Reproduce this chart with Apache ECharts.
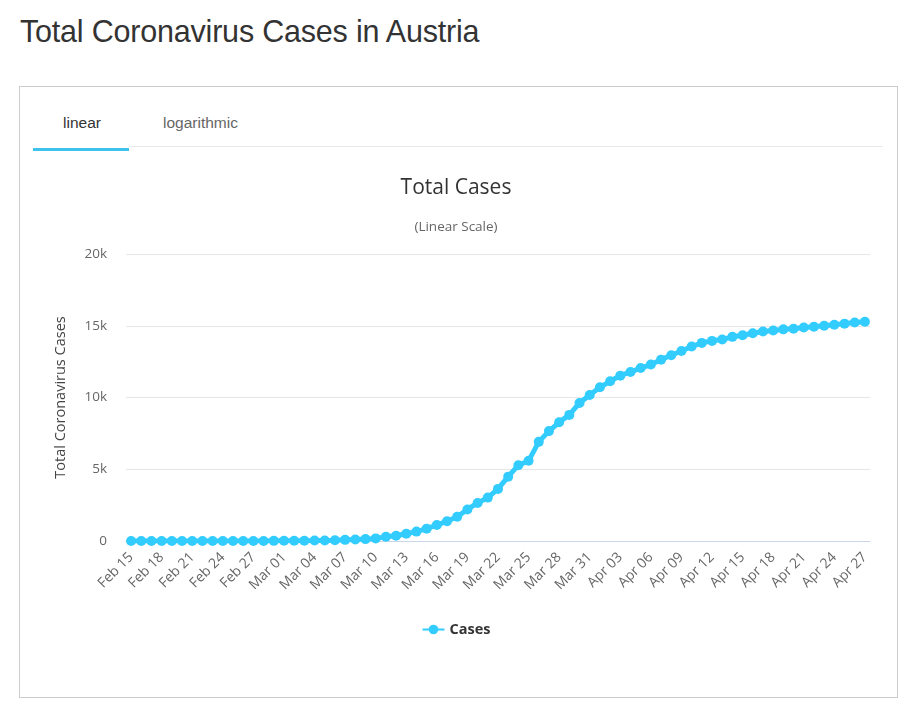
<!DOCTYPE html>
<html>
<head>
<meta charset="utf-8">
<script src="https://cdn.jsdelivr.net/npm/echarts@6/dist/echarts.min.js"></script>
<style>
  html, body { margin: 0; padding: 0; background: #fff; width: 912px; height: 712px; overflow: hidden; }
  #header { position: absolute; left: 20px; top: 14px; font-family: "Liberation Sans", Arial, sans-serif; font-size: 30.5px; color: #333; letter-spacing: -0.2px; }
  #box { position: absolute; left: 19px; top: 86px; width: 879px; height: 612px; border: 1px solid #ccc; box-sizing: border-box; }
  .tab { position: absolute; top: 114px; font-family: "Liberation Sans", Arial, sans-serif; font-size: 15.5px; }
  #tabline { position: absolute; left: 129px; top: 146px; width: 754px; height: 1px; background: #e8e8e8; }
  #tabactive { position: absolute; left: 33px; top: 148px; width: 96px; height: 3px; background: #3fc3ee; }
  #chart { position: absolute; left: 0; top: 0; width: 912px; height: 712px; }
</style>
</head>
<body>
<div id="header">Total Coronavirus Cases in Austria</div>
<div id="box"></div>
<div class="tab" style="left:63px;color:#333;">linear</div>
<div class="tab" style="left:163px;color:#666;">logarithmic</div>
<div id="tabline"></div>
<div id="tabactive"></div>
<div id="chart"></div>
<script>
const categories = [
  "Feb 15","Feb 16","Feb 17","Feb 18","Feb 19","Feb 20","Feb 21","Feb 22","Feb 23","Feb 24",
  "Feb 25","Feb 26","Feb 27","Feb 28","Feb 29",
  "Mar 01","Mar 02","Mar 03","Mar 04","Mar 05","Mar 06","Mar 07","Mar 08","Mar 09","Mar 10",
  "Mar 11","Mar 12","Mar 13","Mar 14","Mar 15","Mar 16","Mar 17","Mar 18","Mar 19","Mar 20",
  "Mar 21","Mar 22","Mar 23","Mar 24","Mar 25","Mar 26","Mar 27","Mar 28","Mar 29","Mar 30","Mar 31",
  "Apr 01","Apr 02","Apr 03","Apr 04","Apr 05","Apr 06","Apr 07","Apr 08","Apr 09","Apr 10",
  "Apr 11","Apr 12","Apr 13","Apr 14","Apr 15","Apr 16","Apr 17","Apr 18","Apr 19","Apr 20",
  "Apr 21","Apr 22","Apr 23","Apr 24","Apr 25","Apr 26","Apr 27"
];
const cases = [
  0,0,0,0,0,0,0,0,0,0,
  2,2,3,3,9,
  14,18,21,29,41,55,79,104,131,182,
  302,361,504,655,860,1110,1380,1690,2200,2649,
  3024,3631,4486,5282,5588,6909,7657,8271,8788,9618,10180,
  10711,11129,11524,11781,12051,12297,12639,12942,13244,13555,
  13806,13945,14041,14226,14336,14476,14595,14671,14749,14795,
  14873,14925,15002,15071,15148,15225,15274
];
const yTicks = { min: 0, max: 20000, interval: 5000 };
const seriesName = "Cases";
const lineColor = "#33ccff";

const chart = echarts.init(document.getElementById('chart'));
chart.setOption({
  animation: false,
  backgroundColor: 'transparent',
  title: {
    text: 'Total Cases',
    subtext: '(Linear Scale)',
    left: 'center',
    top: 173,
    itemGap: 21,
    textStyle: { fontFamily: 'Open Sans, sans-serif', fontSize: 21, fontWeight: 'normal', color: '#333' },
    subtextStyle: { fontFamily: 'Open Sans, sans-serif', fontSize: 13.5, color: '#666' }
  },
  grid: { left: 126, right: 42, top: 254, bottom: 171, containLabel: false },
  legend: {
    data: [seriesName],
    bottom: 70,
    left: 'center',
    itemWidth: 22,
    itemHeight: 12,
    textStyle: { fontFamily: 'Open Sans, sans-serif', fontSize: 14.5, fontWeight: 'bold', color: '#333' }
  },
  xAxis: {
    type: 'category',
    data: categories,
    boundaryGap: true,
    axisLine: { lineStyle: { color: '#ccd6eb' } },
    axisTick: { show: false },
    axisLabel: {
      interval: 2,
      rotate: 45,
      margin: 14,
      fontFamily: 'Open Sans, sans-serif',
      fontSize: 14,
      color: '#666'
    }
  },
  yAxis: {
    type: 'value',
    min: yTicks.min,
    max: yTicks.max,
    interval: yTicks.interval,
    name: 'Total Coronavirus Cases',
    nameLocation: 'middle',
    nameGap: 58,
    nameTextStyle: { fontFamily: 'Open Sans, sans-serif', fontSize: 14.5, color: '#444' },
    axisLine: { show: false },
    axisTick: { show: false },
    axisLabel: {
      margin: 19,
      fontFamily: 'Open Sans, sans-serif',
      fontSize: 13.5,
      color: '#666',
      formatter: function (v) { return v === 0 ? '0' : (v / 1000) + 'k'; }
    },
    splitLine: { lineStyle: { color: '#e6e6e6' } }
  },
  series: [{
    name: seriesName,
    type: 'line',
    data: cases,
    symbol: 'circle',
    symbolSize: 10,
    showAllSymbol: true,
    itemStyle: { color: lineColor },
    lineStyle: { color: lineColor, width: 5 }
  }]
});
</script>
</body>
</html>
